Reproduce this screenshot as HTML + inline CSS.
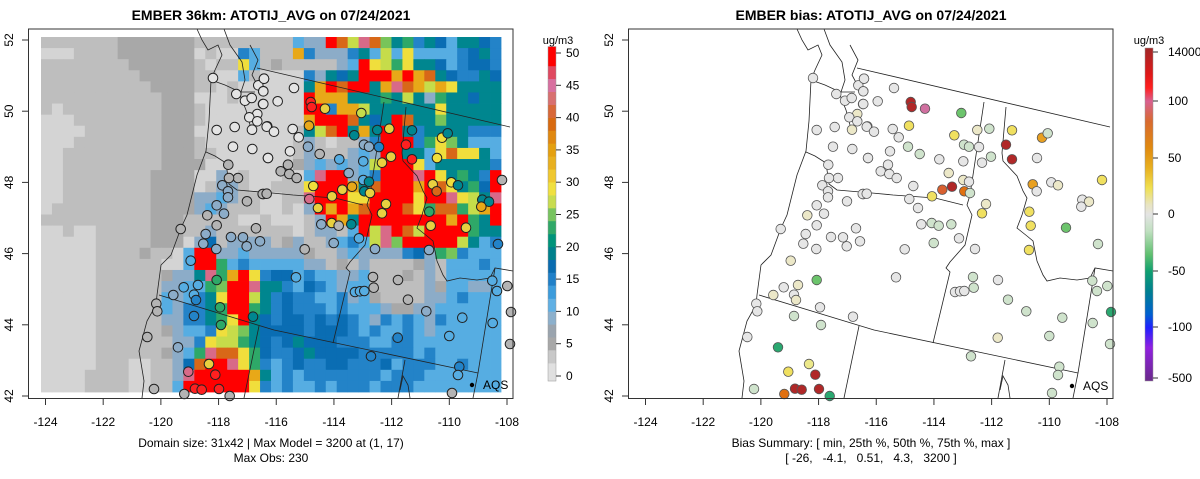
<!DOCTYPE html>
<html><head><meta charset="utf-8"><style>
html,body{margin:0;padding:0;background:#fff;}
svg{display:block;font-family:"Liberation Sans",sans-serif;}
</style></head><body>
<svg id="s" width="1200" height="479" viewBox="0 0 1200 479" xmlns="http://www.w3.org/2000/svg">
<rect width="1200" height="479" fill="#fff"/>
<g id="grid"></g>
<g id="lines" fill="none" stroke="#222" stroke-width="0.8"></g>
<g id="circ"></g>
<g id="axes"></g>
<text x="271" y="20" text-anchor="middle" font-size="14" font-weight="bold">EMBER 36km: ATOTIJ_AVG on 07/24/2021</text>
<text x="871" y="20" text-anchor="middle" font-size="14" font-weight="bold">EMBER bias: ATOTIJ_AVG on 07/24/2021</text>
<text x="271" y="447" text-anchor="middle" font-size="12">Domain size: 31x42 | Max Model = 3200 at (1, 17)</text>
<text x="271" y="462" text-anchor="middle" font-size="12">Max Obs: 230</text>
<text x="871" y="447" text-anchor="middle" font-size="12">Bias Summary: [ min, 25th %, 50th %, 75th %, max ]</text>
<text x="871" y="462" text-anchor="middle" font-size="12" xml:space="preserve" style="white-space:pre">[ -26,   -4.1,   0.51,   4.3,   3200 ]</text>
<circle cx="472" cy="385" r="2.2" fill="#000"/><text x="483" y="389" font-size="12">AQS</text>
<circle cx="1072" cy="386" r="2.2" fill="#000"/><text x="1083" y="390" font-size="12">AQS</text>
<text x="558" y="44" text-anchor="middle" font-size="11">ug/m3</text>
<text x="1149" y="44" text-anchor="middle" font-size="11">ug/m3</text>
<defs><linearGradient id="bg" x1="0" y1="0" x2="0" y2="1">
<stop offset="0" stop-color="#a02828"/><stop offset="0.08" stop-color="#e01818"/><stop offset="0.12" stop-color="#ff2020"/>
<stop offset="0.16" stop-color="#d86090"/><stop offset="0.22" stop-color="#d86a30"/><stop offset="0.3" stop-color="#e08a10"/>
<stop offset="0.36" stop-color="#e8b020"/><stop offset="0.42" stop-color="#f0e050"/><stop offset="0.47" stop-color="#e8e4c0"/>
<stop offset="0.5" stop-color="#e4e4e4"/><stop offset="0.55" stop-color="#c0e0c0"/><stop offset="0.62" stop-color="#60c070"/>
<stop offset="0.67" stop-color="#10a070"/><stop offset="0.73" stop-color="#008090"/><stop offset="0.8" stop-color="#0060d0"/>
<stop offset="0.84" stop-color="#2020ff"/><stop offset="0.9" stop-color="#9020e0"/><stop offset="1" stop-color="#6a2a8a"/>
</linearGradient></defs>
<rect x="1145" y="48" width="8" height="333" fill="url(#bg)" stroke="#999" stroke-width="0.5"/>
<g id="cb"></g>
</svg>
<script>
const NS="http://www.w3.org/2000/svg";
function el(p,t,a){const e=document.createElementNS(NS,t);for(const k in a)e.setAttribute(k,a[k]);p.appendChild(e);return e;}
const C={L:"#d4d4d4",M:"#bebebe",D:"#a8a8a8",s:"#8cacc8",b:"#56ade2",B:"#2383c8",N:"#0a6db3",T:"#00868f",G:"#2ea868",g:"#78c45a",y:"#c6dc4a",Y:"#f0de3c",O:"#e8a818",o:"#d86818",P:"#d86a88",R:"#ff0000"};
const A=["MMMMMMMDDDDDDD","LLLMMMMDDDDDDD","MMMMMMMMDDDDDD","MMMMMMMMMDDDDD","MMMMMMMMMMDDDD","MMMMMMMMMMMDDD","MLMMMMMMMMMDDD","LLLMMMMMMMMDDD","LLLLMMMMMMMDDD","LLLMMMMMMMMDDD","LLMMMMMMMMMDDD","LLMMMMMMMMMDDD","LLMMMMMMMMDDDD","LLMMMMMMMMDDDD","LLMMMMMMMMDDDD","LMMMMMMMMMDDDD","MMMMMMMMMMDDDM","LLMLLMMMMMDDDM","LLLLLMMMMMDDDL","LLLLLMMMMDMMLb","LLLLLMMMMMMLLb","LLLLLMMMMMMDss","LLLLLMMMMMMssb","LLLLLMMMMMMbsb","LLLLLMMMMMMbsB","LLLLLMMMMMMssB","LLLLLMMMMMMDsb","LLLLLMMMMMMMss","LLLLLMMMMMMDsb","LLLLLMMMLLMMsN","LLLLMMMMLLMMsP","LLLLMMMMLLMMbR"];
const Bc=["MMMM","LMLL","MLMM","MMLL","MMLM","LLLM","MLLL","MLLL","LLLL","MLLL","MMLL","DLLL","LLsL","LMss","ssbs","sbsM","MMMM","MsMM","sNMs","RRss","RRGb","TPGO","bGgR","BTYR","BTGR","BTGY","bBYy","BYyy","GPoo","oRRP","RRRR","RRRR"];
const Cc=["MMMMMbssRoyPogTGBT","BbMMMOBsssBTbybYbb","YbMDMMMMMsbRYyGYTT","bMLLLLBsTNTRRROROo","LLLLLLTORoRRTOPoOy","LLLLLLROOOTTTGTyTs","LLLLLLRRBOOyTTTTTT","LLLLLLORRRoTNTRoTT","LLLLLMTyoRTOTRRTBT","LLLLLMsMLMMsBRRRBG","LLLLLMsMMMsbsRRTTb","LLLLLDsbsbsbyRRRYb","MLLLMLbPRRsbBRRRPR","MLLMMMYRRROToRRROR","MMLLMMPRRRYYRRRRYR","MMLLMLsROROoRRRoYG","LLMLLLMsROTRRRRRRR","MMMMMLMssMbRyPRoyR","sssMDsMMsbBbyPgRRR","bsssssDMMsbssssBNs","BbbbbbssMDMsMMMMDs","RYBNNbBbbssbMMMDMs","RPTTBbNBbsbbMMMMMs","RyTBNBBbbBsbDMMMMs","RGTBNBBBbBbbbsDDss","RTNBNNBNBNBbsBbBbs","gTNNNNBNNNBbBbbBbs","GTNBNTNNNBBBbbBBbb","YGNBBNTNNNNBBBBBbB","YGBbBNBBNNBBBNbBBB","ROTbBbBBBBBBBbBBBb","RYBbBbbBbBBBbBBBbb"];
const Dc=["NbTTNB","bbBNTB","NbBNNB","TNBBTN","OYTTTT","GTTNTT","YTTTTT","gTTTTT","TTTBBB","YgTbbb","YoYYTb","TTTTTB","YTGTBR","oYTGNR","RPYyTP","ooGyOR","RORGTR","RRRGTT","RRyTbB","GgBbbb","MbbbBb","Mbbbbb","Dbbssb","sbBbbb","bbbbbb","Bbbbbb","bbbbbb","bbbbbb","bbbbbb","bbBbbb","bbbbbb","bbbbbb"];
const G=[];for(let r=0;r<32;r++)G.push(A[r]+Bc[r]+Cc[r]+Dc[r]);
const gx=41,gy=37,cw=460/42,ch=355/32;
const gg=document.getElementById("grid");
for(let r=0;r<32;r++)for(let c=0;c<42;c++){const k=G[r][c]||"M";
el(gg,"rect",{x:(gx+c*cw).toFixed(2),y:(gy+r*ch).toFixed(2),width:(cw+0.4).toFixed(2),height:(ch+0.4).toFixed(2),fill:C[k]});}
const L=["M857,68 L1110,127","M806,152 L815,156 L826,163 L829,184 L837,190 L872,193 L893,195 L935,198 L963,205",
"M984,102 L970,195 L967,205 L972,215 L965,245 L950,262 L946,268 L950,272 L933,343",
"M759,295 L874,330 L1078,373","M859,326 L844,398","M1005,360 L998,398",
"M1006,107 L1002,153 L1003,161 L1017,176 L1023,191 L1027,198 L1022,215 L1017,228 L1027,236 L1033,241 L1037,261 L1043,275 L1047,281 L1060,278 L1077,280 L1090,278 L1095,268 L1113,271",
"M1095,268 L1078,373 L1073,398",
"M797,29 L802,40 L808,50 L818,45 L822,55 L815,70 L811,80 L809,121 L806,151 L797,175 L787,215 L781,228 L771,255 L761,265 L757,295 L756,305 L747,321 L739,351 L744,381 L742,398",
"M811,80 L825,85 L840,92 L855,92","M824,29 L830,45 L842,62 L845,80 L840,95 L846,110 L850,125","M850,45 L858,60 L852,75 L860,90",
"M1000,390 L1003,376 L1008,385 L1010,398"];
const lg=document.getElementById("lines");
for(const d of L){el(lg,"path",{d:d});el(lg,"path",{d:d,transform:"translate(-600,0)"});}
const RC={W:"#e6e6e6",c:"#ece8c8",p:"#cfe3cc",g:"#6cc46c",G:"#2aa870",Y:"#f0e060",y:"#ece88a",R:"#b02828",O:"#e07010",o:"#e8a020",P:"#d070a0",Q:"#d86030"};
const P8=[[567,150,"W"],[720,152,"W"],[703,172,"W"],[718,190,"W"],[637,198,"W"],[663,218,"W"],[683,210,"W"],[717,228,"W"],[700,258,"c"],[676,268,"W"],[700,280,"W"],[632,297,"W"],[684,305,"c"],[730,295,"W"],[578,306,"W"],[627,356,"W"],[685,363,"W"],[732,390,"W"],[613,410,"W"],[642,450,"W"],[615,450,"W"],[595,472,"W"],[612,490,"W"],[612,508,"W"],[718,498,"W"],[669,520,"W"],[578,532,"W"],[600,557,"W"],[550,562,"c"],[578,592,"W"],[696,601,"W"],[470,603,"W"],[545,618,"W"],[621,627,"W"],[657,628,"W"],[708,640,"W"],[538,647,"W"],[577,663,"W"],[668,655,"W"],[500,698,"c"],[578,756,"g"],[479,778,"W"],[522,771,"c"],[448,801,"c"],[510,800,"W"],[516,816,"c"],[397,827,"W"],[588,838,"W"],[400,850,"W"],[510,864,"p"],[687,866,"W"],[591,891,"p"],[370,927,"W"],[462,958,"G"],[555,1008,"y"],[493,1031,"Y"],[574,1040,"R"],[390,1083,"p"],[513,1082,"R"],[533,1085,"R"],[585,1083,"R"],[481,1098,"O"],[617,1104,"G"]];
const P9=[[12,152,"W"],[10,190,"W"],[102,180,"W"],[53,220,"W"],[10,228,"W"],[152,222,"R"],[155,237,"R"],[195,242,"P"],[304,255,"g"],[20,296,"W"],[42,311,"W"],[147,293,"Y"],[98,303,"W"],[116,328,"W"],[283,322,"Y"],[352,306,"c"],[388,302,"p"],[456,307,"Y"],[546,329,"o"],[563,316,"p"],[144,356,"p"],[312,350,"p"],[327,356,"p"],[357,357,"W"],[438,350,"R"],[90,370,"W"],[179,378,"p"],[24,390,"W"],[238,394,"W"],[310,400,"W"],[366,404,"W"],[393,386,"p"],[456,394,"R"],[531,390,"W"],[84,410,"W"],[62,430,"W"],[88,438,"W"],[110,450,"W"],[266,435,"c"],[160,474,"W"],[310,456,"c"],[327,461,"W"],[276,476,"R"],[247,485,"Q"],[313,490,"O"],[330,495,"p"],[216,505,"Y"],[518,469,"o"],[574,463,"W"],[594,472,"c"],[530,490,"W"],[726,456,"Y"],[667,515,"W"],[687,521,"c"],[664,536,"W"],[8,498,"W"],[20,497,"W"],[148,513,"W"],[174,540,"W"],[378,528,"c"],[366,556,"Y"],[508,551,"Y"],[512,593,"Y"],[618,599,"g"],[184,589,"W"],[215,585,"p"],[236,593,"p"],[274,589,"p"],[297,631,"W"],[221,645,"p"],[134,664,"W"],[345,663,"W"],[507,666,"Y"],[714,648,"p"],[108,748,"W"],[339,747,"p"],[414,756,"W"],[341,779,"p"],[285,792,"W"],[300,790,"W"],[313,789,"W"],[444,815,"p"],[499,850,"p"],[697,758,"p"],[711,789,"p"],[742,774,"p"],[607,869,"p"],[698,885,"p"],[413,929,"c"],[568,924,"p"],[333,985,"p"],[598,1016,"p"],[594,1041,"p"],[576,1095,"p"]];
const pts=[];
for(const p of P8)pts.push([624+p[0]/3,28+p[1]/3,p[2]]);
for(const p of P9)pts.push([860+p[0]/3,28+p[1]/3,p[2]]);
pts.push([1110,344,"p"],[1111,312,"G"]);
const cg=document.getElementById("circ");
const gray="LMD";
for(const p of pts){
 el(cg,"circle",{cx:p[0].toFixed(1),cy:p[1].toFixed(1),r:4.8,fill:RC[p[2]],stroke:"#555","stroke-width":0.8});
 const lx=p[0]-600,ly=p[1];const c=Math.floor((lx-gx)/cw),r=Math.floor((ly-gy)/ch);
 let k=(r>=0&&r<32&&c>=0&&c<42)?G[r][c]:"L";let f;
 if(gray.indexOf(k)>=0)f=(lx<300&&ly<160)?"#e4e4e4":"#b4b4b4";else if(k=="R")f=(p[2]=="R"?"#ff2020":"#e8d040");else f=C[k];
 el(cg,"circle",{cx:lx.toFixed(1),cy:ly.toFixed(1),r:4.8,fill:f,stroke:"#222","stroke-width":1});
}
const ax=document.getElementById("axes");
for(const off of [0,600]){
 el(ax,"rect",{x:28.5+off,y:29,width:484.5,height:369.5,fill:"none",stroke:"#333","stroke-width":1});
 for(let i=0;i<9;i++){const x=45.5+off+i*(461.5/8);
  el(ax,"line",{x1:x,y1:398.5,x2:x,y2:405,stroke:"#333"});
  const t=el(ax,"text",{x:x,y:426,"text-anchor":"middle","font-size":12});t.textContent=String(-124+2*i);}
 const lats=[52,50,48,46,44,42];
 for(let i=0;i<6;i++){const y=40+i*71.2;
  el(ax,"line",{x1:22+off,y1:y,x2:28.5+off,y2:y,stroke:"#333"});
  const t=el(ax,"text",{x:0,y:0,"text-anchor":"middle","font-size":12,transform:`translate(${13+off},${y}) rotate(-90)`});t.textContent=lats[i];}
}
const cb=document.getElementById("cb");
const cols=["#e0e0e0","#c8c8c8","#a8a8a8","#9aa4ae","#8cb0cc","#60b0e4","#3c9cdc","#2080c8","#0a6cb0","#00808c","#00947a","#30a868","#78c460","#c8dc50","#f0e040","#f0c830","#e8b020","#e4a010","#e08810","#d86a10","#d86838","#d87070","#d870a0","#e04860","#ff0000"];
const yv=v=>376-v*(323/50);
for(let i=0;i<25;i++){const v0=i*2,v1=(i==24?51:i*2+2);const y0=i==0?381:yv(v0);
 el(cb,"rect",{x:548,y:yv(v1).toFixed(1),width:8,height:(y0-yv(v1)+0.3).toFixed(1),fill:cols[i]});}
el(cb,"rect",{x:548,y:yv(51),width:8,height:381-yv(51),fill:"none",stroke:"#999","stroke-width":0.5});
for(let v=0;v<=50;v+=5){const y=yv(v);el(cb,"line",{x1:556,y1:y,x2:561,y2:y,stroke:"#333"});
 const t=el(cb,"text",{x:566,y:y+4,"font-size":12});t.textContent=v;}
const rl=[["14000",52],["100",101],["50",158],["0",214],["-50",271],["-100",327],["-500",378]];
for(const [s,y] of rl){el(cb,"line",{x1:1153,y1:y,x2:1158,y2:y,stroke:"#333"});const t=el(cb,"text",{x:1168,y:y+4,"font-size":12});t.textContent=s;}
</script>
</body></html>
